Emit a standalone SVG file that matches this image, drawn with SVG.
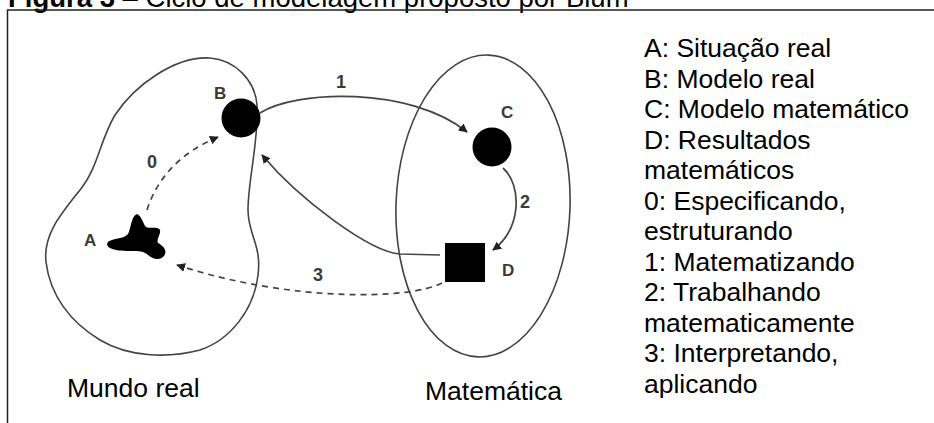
<svg xmlns="http://www.w3.org/2000/svg" width="934" height="423" viewBox="0 0 934 423">
<style>
.t{font-family:"Liberation Sans",Arial,sans-serif;font-size:26.5px;fill:#000}
.lbl{font-family:"Liberation Sans",Arial,sans-serif;font-size:17px;font-weight:bold;fill:#3a3a3a}
.num{font-family:"Liberation Sans",Arial,sans-serif;font-size:18px;font-weight:bold;fill:#3a3a3a}
.region{fill:none;stroke:#444;stroke-width:1.6}
.conn{fill:none;stroke:#444;stroke-width:1.7}
.dash{stroke-dasharray:6 5}
</style>
<defs>
<marker id="ah" viewBox="0 0 10 10" refX="9" refY="5" markerWidth="9" markerHeight="9" markerUnits="userSpaceOnUse" orient="auto">
<path d="M0,0 L10,5 L0,10 z" fill="#222"/>
</marker>
</defs>
<rect width="934" height="423" fill="#fff"/>
<text class="t" x="8" y="7" style="font-size:27.5px"><tspan font-weight="bold">Figura 3</tspan> – Ciclo de modelagem proposto por Blum</text>
<path d="M7.5,423 L7.5,10 L934,10" fill="none" stroke="#222" stroke-width="1.5"/>

<g id="mundo-real">
<path class="region" d="M210,58 C235,60 255,80 257,105 C259,140 248,180 248,210 C248,235 262,245 258,275 C254,310 230,340 200,350 C170,358 130,358 100,340 C70,322 50,295 46,262 C43,235 60,215 80,190 C98,168 100,140 115,115 C135,85 175,56 210,58 Z"/>
<text class="t" x="67" y="397">Mundo real</text>
</g>

<g id="matematica">
<ellipse class="region" cx="483" cy="206" rx="87" ry="151" transform="rotate(2 483 206)"/>
<text class="t" x="425" y="400">Matemática</text>
</g>

<g id="A">
<path d="M137,214 C142,216 143,224 146,227 C151,229 158,226 160,230 C161,235 156,239 158,243 C163,246 168,250 164,256 C160,261 152,259 148,255 C144,251 138,251 132,251 C125,251 116,251 110,248 C105,245 107,241 112,240 C118,238 125,238 128,234 C131,229 131,216 137,214 Z" fill="#000"/>
<text class="lbl" x="84" y="246">A</text>
</g>

<g id="B">
<circle cx="241" cy="118" r="19.5" fill="#000"/>
<text class="lbl" x="214" y="99">B</text>
</g>

<g id="C">
<circle cx="492" cy="147" r="19.5" fill="#000"/>
<text class="lbl" x="501" y="118">C</text>
</g>

<g id="D">
<rect x="445" y="243" width="40" height="39" fill="#000"/>
<text class="lbl" x="502" y="276">D</text>
</g>

<g id="connectors">
<path class="conn dash" d="M147,210 Q163,160 218,137" marker-end="url(#ah)"/>
<path class="conn" d="M260,113 C295,90 410,86 467,132" marker-end="url(#ah)"/>
<path class="conn" d="M503,168 C522,185 522,228 493,250" marker-end="url(#ah)"/>
<path class="conn" d="M440,255 L400,254 C370,252 300,200 262,155" marker-end="url(#ah)"/>
<path class="conn dash" d="M442,283 C410,300 290,302 177,265" marker-end="url(#ah)"/>
<text class="num" x="147" y="168">0</text>
<text class="num" x="336" y="88">1</text>
<text class="num" x="520" y="208">2</text>
<text class="num" x="313" y="281">3</text>
</g>

<g id="legend">
<text class="t" x="644" y="57">A: Situação real</text>
<text class="t" x="644" y="87.5">B: Modelo real</text>
<text class="t" x="644" y="118">C: Modelo matemático</text>
<text class="t" x="644" y="148.5">D: Resultados</text>
<text class="t" x="644" y="179">matemáticos</text>
<text class="t" x="644" y="209.5">0: Especificando,</text>
<text class="t" x="644" y="240">estruturando</text>
<text class="t" x="644" y="270.5">1: Matematizando</text>
<text class="t" x="644" y="301">2: Trabalhando</text>
<text class="t" x="644" y="331.5">matematicamente</text>
<text class="t" x="644" y="362">3: Interpretando,</text>
<text class="t" x="644" y="392.5">aplicando</text>
</g>
</svg>
